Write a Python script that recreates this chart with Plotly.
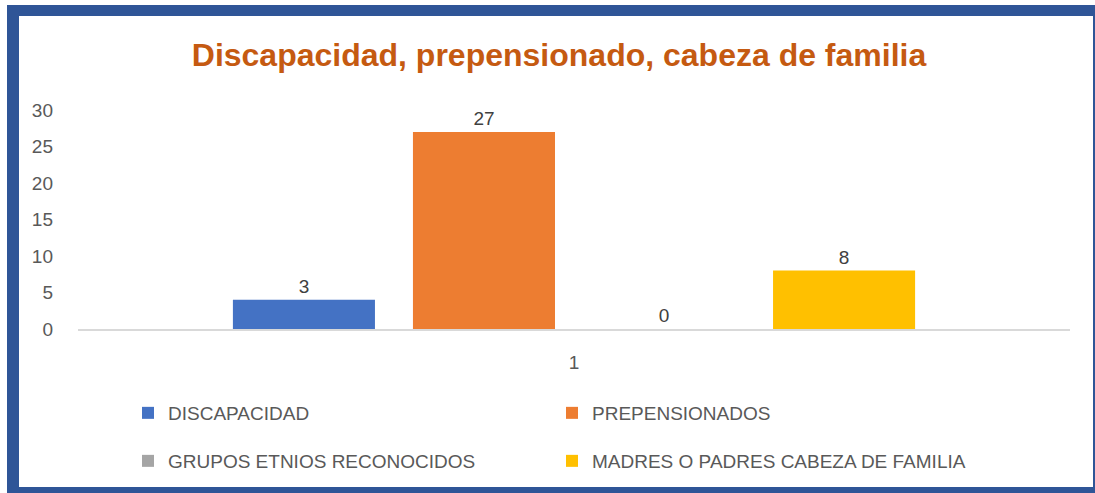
import plotly.graph_objects as go

categories = ["1"]
series_names = ["DISCAPACIDAD", "PREPENSIONADOS", "GRUPOS ETNIOS RECONOCIDOS",
                "MADRES O PADRES CABEZA DE FAMILIA"]
bar_values = [4, 27, 0, 8]          # bar heights as drawn
label_texts = ["3", "27", "0", "8"]  # data labels as printed
colors = ["#4472C4", "#ED7D31", "#A5A5A5", "#FFC000"]
legend_rows = ["legend", "legend", "legend2", "legend2"]
y_ticks = [0, 5, 10, 15, 20, 25, 30]

W, H = 1095, 493
L, R, T, B = 78, 25, 110, 164
pw, ph = W - L - R, H - T - B
FS = 19

fig = go.Figure()
for name, v, t, c, lg in zip(series_names, bar_values, label_texts, colors, legend_rows):
    fig.add_trace(go.Bar(
        x=categories, y=[v], name=name, marker=dict(color=c, line=dict(width=0)),
        text=[t], textposition="outside", cliponaxis=False, legend=lg,
        textfont=dict(family="Liberation Sans", size=FS, color="#404040"),
    ))

def px_to_paper_x(p):
    return (p - L) / pw

def px_to_paper_y(p):
    return (H - B - p) / ph

frame = "#2F5597"
rects = [(7, 5, 19, 493), (7, 5, 1095, 16), (1093, 5, 1095, 493), (7, 487, 1095, 493)]
shapes = []
for x0, y0, x1, y1 in rects:
    shapes.append(dict(type="rect", xref="paper", yref="paper",
                       x0=px_to_paper_x(x0), x1=px_to_paper_x(x1),
                       y0=px_to_paper_y(y1), y1=px_to_paper_y(y0),
                       fillcolor=frame, line=dict(width=0), layer="above"))

legend_common = dict(orientation="h", xanchor="left", yanchor="middle",
                     entrywidth=379, entrywidthmode="pixels", itemwidth=30,
                     bgcolor="rgba(0,0,0,0)",
                     font=dict(family="Liberation Sans", size=FS, color="#595959"))

fig.update_layout(
    width=W, height=H,
    margin=dict(l=L, r=R, t=T, b=B, pad=0),
    paper_bgcolor="white", plot_bgcolor="white",
    barmode="group", bargap=0.274, bargroupgap=0.211,
    title=dict(text="<b>Discapacidad, prepensionado, cabeza de familia</b>",
               x=559 / W, xanchor="center", y=1 - 55 / H, yanchor="middle",
               yref="container",
               font=dict(family="Liberation Sans", size=32, color="#C55A11")),
    font=dict(family="Liberation Sans", color="#595959", size=FS),
    xaxis=dict(showgrid=False, showline=True, linecolor="#D9D9D9", linewidth=2,
               ticks="", tickfont=dict(size=FS, color="#595959"), ticklabelstandoff=15),
    yaxis=dict(range=[0, 30], tickvals=y_ticks, showgrid=False, zeroline=False,
               showline=False, ticks="", tickfont=dict(size=FS, color="#595959"),
               ticklabelstandoff=24),
    legend=dict(x=px_to_paper_x(128), y=px_to_paper_y(413), **legend_common),
    legend2=dict(x=px_to_paper_x(128), y=px_to_paper_y(461), **legend_common),
    shapes=shapes,
    showlegend=True,
)

fig.write_html("out.html", config={"displayModeBar": False},
               post_script="document.body.style.margin='0';")
